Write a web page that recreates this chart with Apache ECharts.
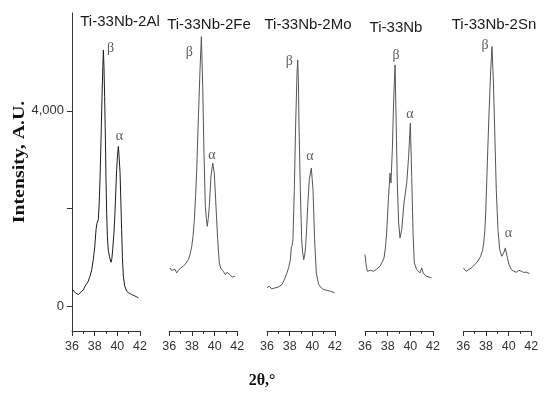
<!DOCTYPE html>
<html>
<head>
<meta charset="utf-8">
<script src="https://cdn.jsdelivr.net/npm/echarts@6/dist/echarts.min.js"></script>
<style>html,body{margin:0;padding:0;background:#fff}#c{width:550px;height:394px}</style>
</head>
<body>
<div id="c"></div>
<script>
// ---- data (2θ in degrees, intensity in A.U.) ----
const titles = ['Ti-33Nb-2Al', 'Ti-33Nb-2Fe', 'Ti-33Nb-2Mo', 'Ti-33Nb', 'Ti-33Nb-2Sn'];

const xAl = [36.06,36.3,36.56,36.8,37.0,37.15,37.4,37.59,37.75,37.88,38.0,38.12,38.2,38.32,38.4,38.47,38.56,38.65,38.72,38.77,38.82,38.88,38.95,39.0,39.06,39.12,39.2,39.3,39.44,39.52,39.59,39.7,39.79,39.87,39.94,40.02,40.09,40.16,40.24,40.31,40.38,40.45,40.53,40.65,40.82,41.0,41.27,41.5,41.7,41.85];
const yAl = [347,280,245,300,340,415,500,620,760,960,1200,1570,1700,1775,2100,2590,3400,4290,4900,5245,4900,4290,3400,2590,1900,1435,1150,1025,905,980,1163,1500,1918,2400,2796,3100,3272,3050,2735,2150,1572,1000,620,420,313,280,245,220,200,177];

const xFe = [36.06,36.2,36.35,36.5,36.65,36.8,37.0,37.24,37.45,37.68,37.85,37.98,38.1,38.21,38.32,38.42,38.56,38.71,38.83,38.95,39.06,39.18,39.27,39.35,39.44,39.53,39.68,39.83,39.97,40.12,40.27,40.41,40.55,40.76,40.95,41.1,41.36,41.55,41.8];
const yFe = [790,740,700,760,688,740,790,823,880,959,1080,1231,1450,1776,2250,2796,3817,4837,5517,4496,3137,2047,1800,1639,1800,2047,2660,2933,2728,2047,1367,892,780,721,650,700,653,600,619];

const xMo = [36.0,36.2,36.4,36.73,37.0,37.32,37.55,37.76,37.92,38.06,38.14,38.22,38.29,38.41,38.53,38.65,38.71,38.77,38.82,38.94,39.06,39.15,39.24,39.32,39.41,39.5,39.59,39.73,39.91,40.06,40.2,40.35,40.56,40.8,41.0,41.3,41.59,41.97];
const yMo = [382,420,360,382,400,449,560,688,800,959,1198,1250,1367,2388,3749,4770,5041,4600,3749,2388,1367,1100,959,1050,1231,1600,2047,2592,2831,2388,1367,688,449,380,347,330,313,280];

const xNb = [36.0,36.1,36.2,36.29,36.5,36.73,37.0,37.32,37.5,37.68,37.8,37.91,38.06,38.21,38.29,38.41,38.53,38.65,38.74,38.85,38.97,39.09,39.24,39.44,39.68,39.85,40.0,40.12,40.24,40.35,40.56,40.85,41.0,41.15,41.44,41.88];
const yNb = [1061,850,720,688,740,721,760,823,900,993,1200,1504,2184,2728,2524,3204,4225,4939,3885,2524,1708,1402,1572,2116,2524,3068,3749,2660,1504,892,755,688,790,674,619,586];

const xSn = [36.0,36.26,36.5,36.71,36.9,37.15,37.35,37.53,37.7,37.8,37.9,37.98,38.12,38.27,38.42,38.53,38.65,38.77,38.91,39.06,39.21,39.39,39.56,39.71,39.86,40.03,40.24,40.45,40.68,40.9,41.12,41.3,41.41,41.6,41.85];
const ySn = [790,721,760,790,830,892,950,1027,1150,1300,1550,1912,2933,3953,4837,5313,4633,3613,2388,1572,1163,1027,1096,1198,1027,857,755,720,700,740,721,700,688,700,674];

// peak annotation positions (data coordinates)
const betaX = [39.40, 37.76, 37.97, 38.74, 37.91];
const betaY = [5286, 5205, 5021, 5143, 5347];
const alphaX = [40.19, 39.77, 39.79, 39.97, 39.97];
const alphaY = [3470, 3082, 3062, 3919, 1490];

const xTicks = [36, 38, 40, 42];
const yTickValues = [0, 2000, 4000];
const yLabelValues = [0, 4000];

// ---- layout ----
const panelLeft = [72, 169.3, 267, 365, 463.3];
const panelWidth = 68;
const titleX = [120, 209, 308, 396, 494];
const titleY = [22, 24.5, 24.5, 28, 24.5];
const lineColors = ['#1c1c1c', '#555', '#555', '#555', '#555'];

const xs = [xAl, xFe, xMo, xNb, xSn];
const ys = [yAl, yFe, yMo, yNb, ySn];

const sans = 'Liberation Sans, Arial, sans-serif';
const serif = 'Liberation Serif, Times New Roman, serif';
const axisColor = '#333';

const grid = [], xAxis = [], yAxis = [], series = [], graphic = [];
for (let i = 0; i < 5; i++) {
  grid.push({left: panelLeft[i], top: 13, width: panelWidth, height: 318});
  xAxis.push({
    gridIndex: i, type: 'value', min: xTicks[0], max: xTicks[xTicks.length - 1], interval: 2,
    axisLine: {show: true, onZero: false, lineStyle: {color: axisColor, width: 1}},
    axisTick: {show: true, length: 5, lineStyle: {color: axisColor}},
    minorTick: {show: true, splitNumber: 2, length: 3, lineStyle: {color: axisColor}},
    axisLabel: {margin: 9, fontSize: 12.5, color: '#333', fontFamily: sans, showMinLabel: true, showMaxLabel: true, hideOverlap: false},
    splitLine: {show: false}, minorSplitLine: {show: false}
  });
  yAxis.push({
    gridIndex: i, type: 'value', min: -500, max: 6000, show: i === 0,
    axisLine: {show: true, onZero: false, lineStyle: {color: axisColor, width: 1}},
    axisTick: {show: true, length: 5, customValues: yTickValues, lineStyle: {color: axisColor}},
    axisLabel: {customValues: yLabelValues, margin: 8, fontSize: 13, color: '#333', fontFamily: sans,
      formatter: v => Number(v).toLocaleString('en-US')},
    splitLine: {show: false}
  });
  series.push({
    type: 'line', xAxisIndex: i, yAxisIndex: i, showSymbol: false, symbol: 'none',
    data: xs[i].map((x, k) => [x, ys[i][k]]),
    lineStyle: {color: lineColors[i], width: 1}, animation: false
  });
  series.push({
    type: 'scatter', xAxisIndex: i, yAxisIndex: i, symbolSize: 0, animation: false, silent: true,
    data: [[betaX[i], betaY[i], 'β'], [alphaX[i], alphaY[i], 'α']],
    label: {show: true, position: 'inside', formatter: p => p.data[2], fontFamily: serif, fontSize: 14, color: '#333'}
  });
  graphic.push({
    type: 'text', x: titleX[i], y: titleY[i],
    style: {text: titles[i], font: '15px ' + sans, fill: '#1a1a1a', textAlign: 'center', textVerticalAlign: 'middle'}
  });
}
graphic.push({
  type: 'text', x: 20, y: 162, rotation: Math.PI / 2, scaleX: 1.17,
  style: {text: 'Intensity, A.U.', font: 'bold 17px ' + serif, fill: '#111', textAlign: 'center', textVerticalAlign: 'middle'}
});
graphic.push({
  type: 'text', x: 262, y: 381,
  style: {text: '2θ,°', font: 'bold 16px ' + serif, fill: '#111', textAlign: 'center', textVerticalAlign: 'middle'}
});

const chart = echarts.init(document.getElementById('c'), null, {renderer: 'canvas'});
chart.setOption({animation: false, backgroundColor: '#fff', grid, xAxis, yAxis, series, graphic});
</script>
</body>
</html>
